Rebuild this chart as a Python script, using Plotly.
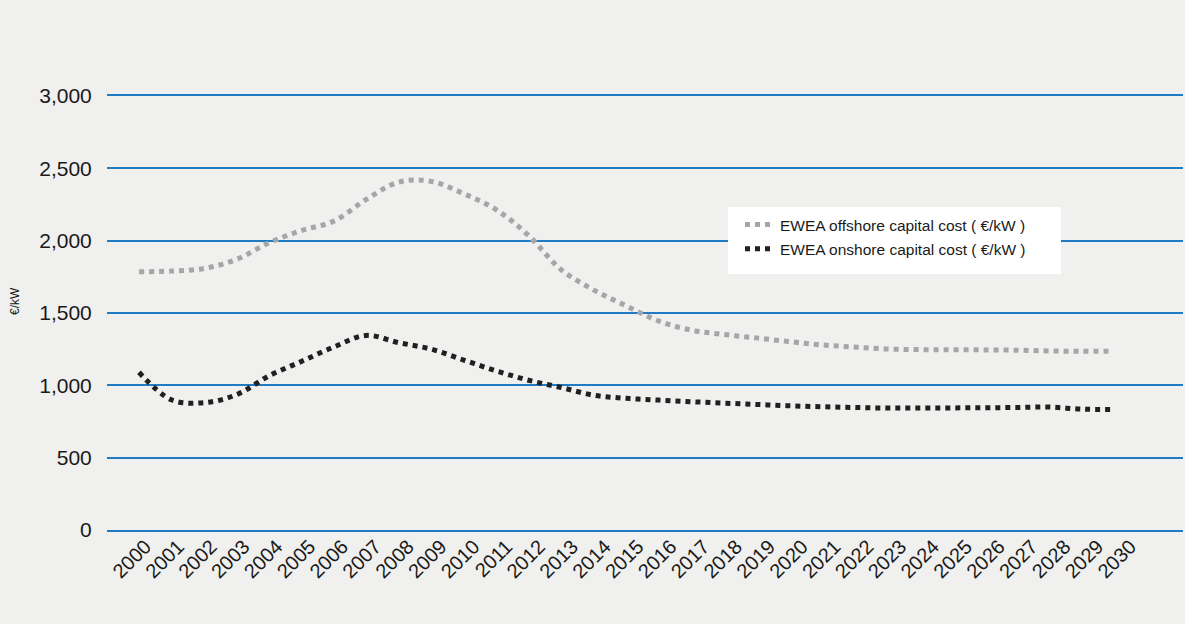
import plotly.graph_objects as go

years = list(range(2000, 2031))
offshore = [1785, 1790, 1808, 1870, 1985, 2070, 2135, 2285, 2405, 2410,
            2325, 2215, 2035, 1800, 1660, 1550, 1445, 1382, 1352, 1328,
            1303, 1280, 1265, 1252, 1247, 1246, 1245, 1243, 1238, 1235, 1235]
onshore = [1090, 900, 880, 935, 1065, 1165, 1265, 1345, 1295, 1250,
           1175, 1100, 1035, 985, 932, 910, 898, 887, 877, 868,
           859, 852, 847, 843, 843, 844, 845, 847, 850, 836, 833]
y_ticks = [0, 500, 1000, 1500, 2000, 2500, 3000]
y_tick_text = ["0", "500", "1,000", "1,500", "2,000", "2,500", "3,000"]
x_tick_text = [str(y) for y in years]

FONT = "Liberation Sans, Arial, Helvetica, sans-serif"
BG = "#f0f0ef"
GRID = "#1f7bc4"
TXT = "#1a1a1a"

fig = go.Figure()
fig.add_trace(go.Scatter(
    x=years, y=offshore, mode="lines", legendgroup="a",
    name="EWEA offshore capital cost ( €/kW )",
    line=dict(color="#a6a6a8", width=5, dash="dot", shape="spline", smoothing=1),
))
fig.add_trace(go.Scatter(
    x=years, y=onshore, mode="lines", legendgroup="b",
    name="EWEA onshore capital cost ( €/kW )",
    line=dict(color="#231f20", width=5, dash="dot", shape="spline", smoothing=1),
))

L, R, T, B = 107, 2, 96, 94
W, H = 1185, 624
pw = W - L - R
ph = H - T - B
x0_px, x1_px = 139, 1113
per = (x1_px - x0_px) / 30.0
xmin = 2000 - (x0_px - L) / per
xmax = 2030 + (W - R - x1_px) / per
# label axis
lx0, lx1 = 145.4, 1130.4
per2 = (lx1 - lx0) / 30.0
xmin2 = 2000 - (lx0 - L) / per2
xmax2 = 2030 + (W - R - lx1) / per2

ymin, ymax = 0, 3000

def px(xp):
    return (xp - L) / pw

def pyp(yp):
    return (H - B - yp) / ph

fig.update_layout(
    width=W, height=H,
    margin=dict(l=L, r=R, t=T, b=B, pad=0),
    paper_bgcolor=BG, plot_bgcolor=BG,
    font=dict(family=FONT, color=TXT),
    showlegend=True,
    legend=dict(
        x=px(740), y=pyp(208), xanchor="left", yanchor="top",
        bgcolor="rgba(0,0,0,0)", borderwidth=0,
        font=dict(size=15.5, family=FONT, color=TXT),
        itemwidth=30, tracegroupgap=1,
    ),
    shapes=[dict(
        type="rect", xref="paper", yref="paper", layer="above",
        x0=px(728), x1=px(1061), y0=pyp(274), y1=pyp(207),
        fillcolor="white", line=dict(width=0),
    )],
    annotations=[dict(
        text="€/kW", xref="paper", yref="paper", x=px(15), y=pyp(301),
        xanchor="center", yanchor="middle", textangle=-90, showarrow=False,
        font=dict(size=12, family=FONT, color=TXT),
    )],
    xaxis=dict(
        range=[xmin, xmax], showgrid=False, zeroline=False,
        showticklabels=False, ticks="",
        showline=True, linecolor=GRID, linewidth=1.5, mirror=True,
    ),
    xaxis2=dict(
        range=[xmin2, xmax2], overlaying="x", anchor="y", side="bottom",
        showgrid=False, zeroline=False, showline=False,
        tickmode="array", tickvals=years, ticktext=x_tick_text,
        tickangle=-45, tickfont=dict(size=20, family=FONT, color=TXT),
        ticks="",
    ),
    yaxis=dict(
        range=[ymin, ymax], tickmode="array", tickvals=y_ticks, ticktext=y_tick_text,
        showgrid=True, gridcolor=GRID, gridwidth=1.5,
        zeroline=False, showline=False,
        ticks="outside", ticklen=10, tickcolor="rgba(0,0,0,0)",
        tickfont=dict(size=21, family=FONT, color=TXT),
    ),
)
fig.add_trace(go.Scatter(x=[years[0]], y=[None], xaxis="x2", showlegend=False, hoverinfo="skip"))

fig.write_html("out.html")
